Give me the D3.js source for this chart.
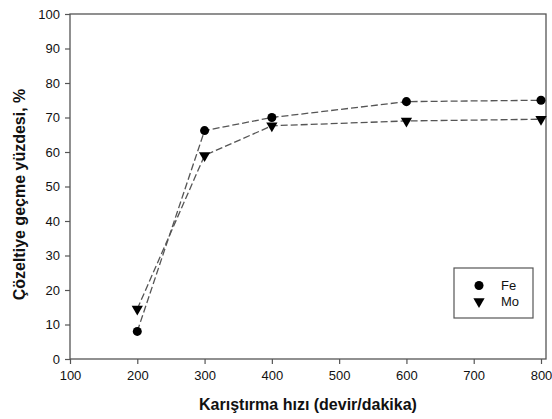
<!DOCTYPE html>
<html><head><meta charset="utf-8">
<script src="https://cdn.jsdelivr.net/npm/d3@7"></script>
<style>body{margin:0;background:#fff}svg{display:block}</style>
</head><body><svg id="c" width="552" height="419"></svg>
<script>
const speeds = [200, 300, 400, 600, 800];
const feValues = [8, 66.2, 70, 74.6, 75];
const moValues = [14.5, 59, 67.6, 69, 69.5];
const xTicks = [100, 200, 300, 400, 500, 600, 700, 800];
const yTicks = [0, 10, 20, 30, 40, 50, 60, 70, 80, 90, 100];
const seriesNames = ["Fe", "Mo"];
const xTitle = "Karıştırma hızı (devir/dakika)";
const yTitle = "Çözeltiye geçme yüzdesi, %";

const svg = d3.select("#c");
const L = 70, R = 546, T = 14, B = 359;
const x = d3.scaleLinear().domain([100, 800]).range([L, 541]);
const y = d3.scaleLinear().domain([0, 100]).range([B, T]);
const axisCol = "#555";
const font = "'Liberation Sans', Arial, sans-serif";

// frame
svg.append("rect").attr("x", L).attr("y", T).attr("width", R - L).attr("height", B - T)
  .attr("fill", "none").attr("stroke", axisCol).attr("stroke-width", 1.3);

const xa = svg.append("g").attr("transform", `translate(0,${B})`)
  .call(d3.axisBottom(x).tickValues(xTicks).tickSize(5).tickPadding(7).tickFormat(d3.format("d")));
const ya = svg.append("g").attr("transform", `translate(${L},0)`)
  .call(d3.axisLeft(y).tickValues(yTicks).tickSize(5).tickPadding(5).tickFormat(d3.format("d")));
[xa, ya].forEach(a => {
  a.select(".domain").remove();
  a.selectAll("line").attr("stroke", axisCol).attr("stroke-width", 1.2);
  a.selectAll("text").attr("font-family", font).attr("font-size", 13).attr("fill", "#111");
});

svg.append("text").attr("x", 308).attr("y", 410).attr("text-anchor", "middle")
  .attr("font-family", font).attr("font-size", 16).attr("font-weight", "bold").attr("fill", "#111")
  .text(xTitle);
svg.append("text").attr("transform", `translate(25,${(T + B) / 2 + 8}) rotate(-90)`).attr("text-anchor", "middle")
  .attr("font-family", font).attr("font-size", 16).attr("font-weight", "bold").attr("fill", "#111")
  .text(yTitle);

const line = d3.line().x(d => x(d[0])).y(d => y(d[1]));
const series = [
  {name: seriesNames[0], vals: feValues, sym: d3.symbolCircle, size: 64},
  {name: seriesNames[1], vals: moValues, sym: d3.symbolTriangle, size: 55}
];
series.forEach(s => {
  const pts = speeds.map((v, i) => [v, s.vals[i]]);
  svg.append("path").attr("d", line(pts)).attr("fill", "none")
    .attr("stroke", "#555").attr("stroke-width", 1.3).attr("stroke-dasharray", "7,3");
  svg.selectAll(null).data(pts).enter().append("path")
    .attr("d", d3.symbol().type(s.sym).size(s.size))
    .attr("transform", d => `translate(${x(d[0])},${y(d[1])})` + (s.sym === d3.symbolTriangle ? " rotate(180)" : ""))
    .attr("fill", "#000");
});

// legend
svg.append("rect").attr("x", 454).attr("y", 268).attr("width", 79).attr("height", 50)
  .attr("fill", "#fff").attr("stroke", axisCol).attr("stroke-width", 1.2);
series.forEach((s, i) => {
  const cy = 285.5 + i * 16;
  svg.append("path").attr("d", d3.symbol().type(s.sym).size(s.size))
    .attr("transform", `translate(479,${cy})` + (s.sym === d3.symbolTriangle ? " rotate(180)" : ""))
    .attr("fill", "#000");
  svg.append("text").attr("x", 501).attr("y", cy + 4.5).attr("font-family", font).attr("font-size", 13)
    .attr("fill", "#111").text(s.name);
});
</script></body></html>
